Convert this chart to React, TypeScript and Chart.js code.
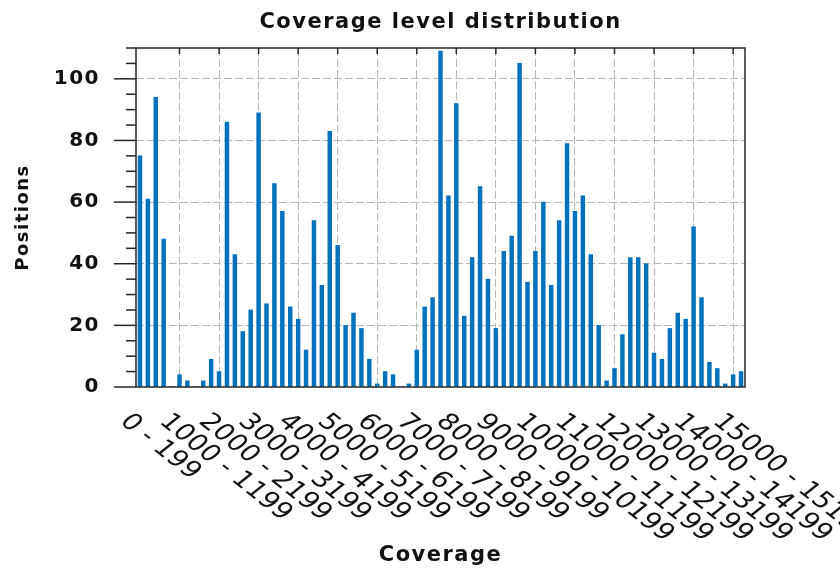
import { useEffect, useRef } from 'react';
import { Chart, registerables } from 'chart.js';

Chart.register(...registerables);

const FONT = '"DejaVu Sans", sans-serif';

const chartTitle = 'Coverage level distribution';
const xTitle = 'Coverage';
const yTitle = 'Positions';

const categories: string[] = [
  '0 - 199', '200 - 399', '400 - 599', '600 - 799', '800 - 999',
  '1000 - 1199', '1200 - 1399', '1400 - 1599', '1600 - 1799', '1800 - 1999',
  '2000 - 2199', '2200 - 2399', '2400 - 2599', '2600 - 2799', '2800 - 2999',
  '3000 - 3199', '3200 - 3399', '3400 - 3599', '3600 - 3799', '3800 - 3999',
  '4000 - 4199', '4200 - 4399', '4400 - 4599', '4600 - 4799', '4800 - 4999',
  '5000 - 5199', '5200 - 5399', '5400 - 5599', '5600 - 5799', '5800 - 5999',
  '6000 - 6199', '6200 - 6399', '6400 - 6599', '6600 - 6799', '6800 - 6999',
  '7000 - 7199', '7200 - 7399', '7400 - 7599', '7600 - 7799', '7800 - 7999',
  '8000 - 8199', '8200 - 8399', '8400 - 8599', '8600 - 8799', '8800 - 8999',
  '9000 - 9199', '9200 - 9399', '9400 - 9599', '9600 - 9799', '9800 - 9999',
  '10000 - 10199', '10200 - 10399', '10400 - 10599', '10600 - 10799', '10800 - 10999',
  '11000 - 11199', '11200 - 11399', '11400 - 11599', '11600 - 11799', '11800 - 11999',
  '12000 - 12199', '12200 - 12399', '12400 - 12599', '12600 - 12799', '12800 - 12999',
  '13000 - 13199', '13200 - 13399', '13400 - 13599', '13600 - 13799', '13800 - 13999',
  '14000 - 14199', '14200 - 14399', '14400 - 14599', '14600 - 14799', '14800 - 14999',
  '15000 - 15199', '15200 - 15399',
];

const positions: number[] = [
  75, 61, 94, 48, 0,
  4, 2, 0, 2, 9,
  5, 86, 43, 18, 25,
  89, 27, 66, 57, 26,
  22, 12, 54, 33, 83,
  46, 20, 24, 19, 9,
  1, 5, 4, 0, 1,
  12, 26, 29, 109, 62,
  92, 23, 42, 65, 35,
  19, 44, 49, 105, 34,
  44, 60, 33, 54, 79,
  57, 62, 43, 20, 2,
  6, 17, 42, 42, 40,
  11, 9, 19, 24, 22,
  52, 29, 8, 6, 1,
  4, 5,
];

const yMin = 0;
const yMax = 110;
const yMajorStep = 20;
const yMinorStep = 5;
const labelEvery = 5;

const BAR = '#0072bd';
const GRID = '#b8b8b8';
const AXIS = '#262626';
const TEXT = '#111111';

const framePlugin = {
  id: 'frame',
  beforeDraw(chart: any) {
    (chart.ctx as any).letterSpacing = '1.5px';
  },
  afterDraw(chart: any) {
    const { ctx, chartArea: a, scales } = chart;
    const xs = scales.x;
    const ys = scales.y;
    ctx.save();
    ctx.setLineDash([]);
    ctx.strokeStyle = AXIS;
    ctx.lineWidth = 1.5;
    ctx.strokeRect(a.left, a.top, a.right - a.left, a.bottom - a.top);

    // y tick marks (major long, minor short, outside)
    for (let v = yMin; v <= yMax; v += yMinorStep) {
      const py = ys.getPixelForValue(v);
      const len = v % yMajorStep === 0 ? 22 : 10;
      ctx.beginPath();
      ctx.moveTo(a.left - len, py);
      ctx.lineTo(a.left, py);
      ctx.stroke();
    }
    // top edge ticks
    categories.forEach((_, i) => {
      if (i % labelEvery !== 0 || i === 0) return;
      const px = xs.getPixelForValue(i);
      ctx.beginPath();
      ctx.moveTo(px, a.top);
      ctx.lineTo(px, a.top + 6);
      ctx.stroke();
    });

    // chart title
    ctx.fillStyle = TEXT;
    (ctx as any).letterSpacing = '1.5px';
    ctx.font = `bold 21px ${FONT}`;
    ctx.textAlign = 'center';
    ctx.textBaseline = 'alphabetic';
    ctx.fillText(chartTitle, (a.left + a.right) / 2, 28);

    // rotated x tick labels
    (ctx as any).letterSpacing = '0px';
    ctx.font = `23px ${FONT}`;
    ctx.textAlign = 'left';
    ctx.textBaseline = 'middle';
    categories.forEach((label, i) => {
      if (i % labelEvery !== 0) return;
      const px = xs.getPixelForValue(i);
      ctx.save();
      ctx.translate(px - 16, a.bottom + 31);
      ctx.transform(1.25, 0, 0, 1, 0, 0);
      ctx.rotate(Math.PI / 4);
      ctx.fillText(label, 0, 0);
      ctx.restore();
    });
    ctx.restore();
  },
};

export default function App() {
  const ref = useRef<HTMLCanvasElement>(null);

  useEffect(() => {
    if (!ref.current) return;
    const chart = new Chart(ref.current, {
      type: 'bar',
      data: {
        labels: categories,
        datasets: [
          {
            data: positions,
            backgroundColor: BAR,
            borderWidth: 0,
            barThickness: 3.8,
          },
        ],
      },
      options: {
        animation: false,
        responsive: true,
        maintainAspectRatio: false,
        layout: { padding: { left: 0, right: 95, top: 47, bottom: 0 } },
        plugins: {
          legend: { display: false },
          title: { display: false },
          tooltip: { enabled: false },
        },
        scales: {
          x: {
            offset: true,
            ticks: { display: false },
            grid: {
              offset: false,
              drawTicks: false,
              lineWidth: 1,
              color: (c: any) => (c.index % labelEvery === 0 && c.index > 0 ? GRID : 'transparent'),
            },
            border: { display: false, dash: [8, 3] },
            title: {
              display: true,
              text: xTitle,
              color: TEXT,
              font: { family: FONT, size: 21, weight: 'bold' },
              padding: { top: 0, bottom: 3 },
            },
            afterFit: (s: any) => {
              s.height = 184;
            },
          },
          y: {
            min: yMin,
            max: yMax,
            ticks: {
              stepSize: yMajorStep,
              padding: 36,
              color: TEXT,
              font: { family: FONT, size: 20, weight: 'bold' },
              callback: (v: any) => (Number(v) % yMajorStep === 0 && Number(v) <= 100 ? String(v) : ''),
            },
            grid: {
              drawTicks: false,
              lineWidth: 1,
              color: (c: any) => {
                const v = c.tick ? c.tick.value : -1;
                return v > 0 && v <= 100 && v % yMajorStep === 0 ? GRID : 'transparent';
              },
            },
            border: { display: false, dash: [8, 3] },
            title: {
              display: true,
              text: yTitle,
              color: TEXT,
              font: { family: FONT, size: 18, weight: 'bold' },
              padding: { top: 13, bottom: 0 },
            },
            afterFit: (s: any) => {
              s.width = 136;
            },
          },
        },
      } as any,
      plugins: [framePlugin],
    });
    return () => chart.destroy();
  }, []);

  return (
    <div style={{ position: 'absolute', left: 0, top: 0, width: 840, height: 571, background: '#fff' }}>
      <canvas ref={ref} />
    </div>
  );
}
